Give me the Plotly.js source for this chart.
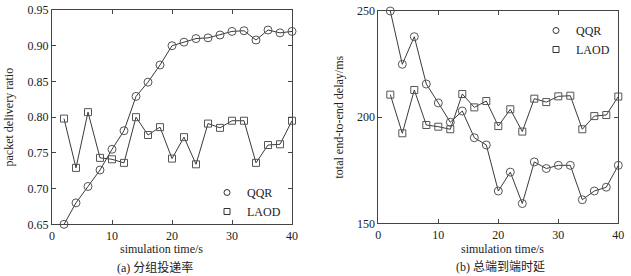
<!DOCTYPE html>
<html>
<head>
<meta charset="utf-8">
<script src="https://cdn.plot.ly/plotly-3.0.1.min.js"></script>
<style>html,body{margin:0;padding:0;background:#fff;}#chart{width:631px;height:276px;}</style>
</head>
<body>
<div id="chart"></div>
<script>
const timeS = [2,4,6,8,10,12,14,16,18,20,22,24,26,28,30,32,34,36,38,40];
const pdrQQR = [0.650,0.680,0.703,0.726,0.755,0.781,0.829,0.849,0.873,0.900,0.905,0.910,0.911,0.915,0.920,0.921,0.908,0.922,0.918,0.920];
const pdrLAOD = [0.798,0.729,0.807,0.743,0.741,0.736,0.800,0.775,0.786,0.742,0.772,0.734,0.791,0.785,0.795,0.795,0.736,0.761,0.762,0.795];
const delayQQR = [250,224.9,237.9,215.6,206.7,197.6,202.9,190.3,186.9,165.2,174.1,159.3,178.9,175.8,177.3,177.3,161.1,165.2,167.0,177.3];
const delayLAOD = [210.6,192.4,212.8,196.3,195.5,194.3,210.9,204.6,207.6,195.8,203.7,193.2,208.7,207.1,209.8,210.1,194.3,200.5,201.0,209.7];
const seriesNames = ['QQR','LAOD'];
const xTitle = 'simulation time/s';
const yTitleA = 'packet delivery ratio';
const yTitleB = 'total end-to-end delay/ms';
const captionA = '(a) 分组投递率';
const captionB = '(b) 总端到端时延';

const FONT = 'Liberation Serif, Times New Roman, Noto Sans CJK SC, serif';
const lineC = '#3a3a3a';
const markC = '#555';

function tr(x, y, sym, xa, ya) {
  return {x: x, y: y, xaxis: xa, yaxis: ya, mode: 'lines+markers', showlegend: false, cliponaxis: false,
    line: {color: lineC, width: 1},
    marker: {symbol: sym, size: sym.indexOf('circle') === 0 ? 8 : 7, color: markC, line: {color: markC, width: 1}}};
}
function leg(name, sym, lg) {
  return {x: [null], y: [null], mode: 'markers', name: name, legend: lg,
    marker: {symbol: sym, size: 6, color: '#333', line: {color: '#333', width: 1}}};
}

const data = [
  tr(timeS, pdrQQR, 'circle-open', 'x', 'y'),
  tr(timeS, pdrLAOD, 'square-open', 'x', 'y'),
  tr(timeS, delayQQR, 'circle-open', 'x2', 'y2'),
  tr(timeS, delayLAOD, 'square-open', 'x2', 'y2'),
  leg(seriesNames[0], 'circle-open', 'legend'),
  leg(seriesNames[1], 'square-open', 'legend'),
  Object.assign(leg(seriesNames[0], 'circle-open', 'legend2'), {xaxis: 'x2', yaxis: 'y2'}),
  Object.assign(leg(seriesNames[1], 'square-open', 'legend2'), {xaxis: 'x2', yaxis: 'y2'})
];

const axBase = {showgrid: false, zeroline: false, showline: true, linecolor: '#444', linewidth: 1,
  mirror: 'ticks', ticks: 'inside', ticklen: 4, tickcolor: '#444',
  tickfont: {family: FONT, size: 12, color: '#222'}};

const tfont = {family: FONT, size: 12, color: '#222'};

const layout = {
  width: 631, height: 276,
  margin: {l: 0, r: 0, t: 0, b: 0},
  paper_bgcolor: '#fff', plot_bgcolor: '#fff',
  font: tfont,
  xaxis: Object.assign({}, axBase, {domain: [52/631, 292/631], range: [0, 40], dtick: 10, anchor: 'y'}),
  yaxis: Object.assign({}, axBase, {domain: [1-224.3/276, 1-10/276], range: [0.65, 0.95], dtick: 0.05, tickformat: '.2f', anchor: 'x',
    title: {text: yTitleA, font: tfont, standoff: 11}}),
  xaxis2: Object.assign({}, axBase, {domain: [378.3/631, 618.3/631], range: [0, 40], dtick: 10, anchor: 'y2'}),
  yaxis2: Object.assign({}, axBase, {domain: [1-223.3/276, 1-11/276], range: [150, 250], dtick: 50, anchor: 'x2',
    title: {text: yTitleB, font: tfont, standoff: 10}}),
  legend: {x: 207/631, y: 1-178/276, xanchor: 'left', yanchor: 'top', bgcolor: 'rgba(0,0,0,0)',
    font: {family: FONT, size: 12, color: '#222'}, itemwidth: 30, tracegroupgap: 0},
  legend2: {x: 536/631, y: 1-16/276, xanchor: 'left', yanchor: 'top', bgcolor: 'rgba(0,0,0,0)',
    font: {family: FONT, size: 12, color: '#222'}, itemwidth: 30, tracegroupgap: 0},
  annotations: [
    {text: xTitle, xref: 'paper', yref: 'paper', x: 161/631, y: 1-249/276, xanchor: 'center', yanchor: 'middle', showarrow: false, font: tfont},
    {text: xTitle, xref: 'paper', yref: 'paper', x: 502/631, y: 1-249/276, xanchor: 'center', yanchor: 'middle', showarrow: false, font: tfont},
    {text: captionA, xref: 'paper', yref: 'paper', x: 155/631, y: 1-267/276, xanchor: 'center', yanchor: 'middle', showarrow: false, font: tfont},
    {text: captionB, xref: 'paper', yref: 'paper', x: 500/631, y: 1-267/276, xanchor: 'center', yanchor: 'middle', showarrow: false, font: tfont}
  ]
};

Plotly.newPlot('chart', data, layout, {displayModeBar: false, staticPlot: true});
</script>
</body>
</html>
